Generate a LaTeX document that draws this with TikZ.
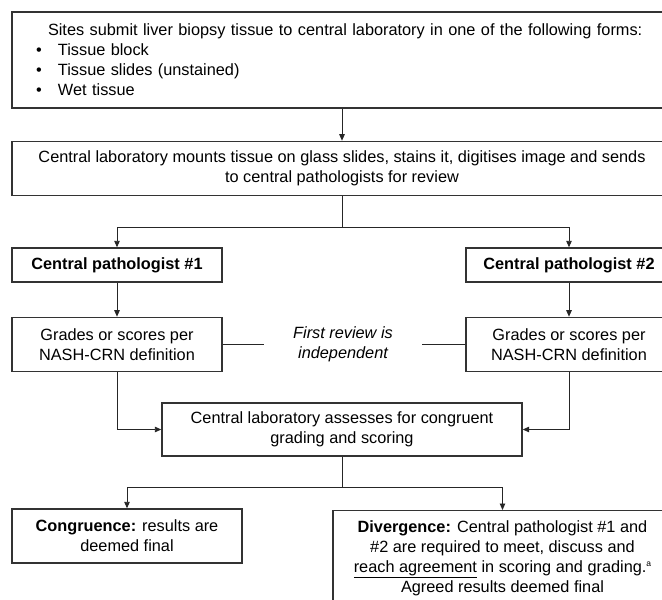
\documentclass[tikz,border=0pt]{standalone}
\usepackage{fontspec}
\setmainfont{Liberation Sans}
\usetikzlibrary{arrows.meta, positioning, calc}

\begin{document}
\begin{tikzpicture}[
    x=1pt, y=-1pt,
    % Define styles
    box/.style={rectangle, draw=black!80, line width=1.4pt, align=center, inner sep=0pt, font=\fontsize{16.3}{20}\selectfont},
    widebox/.style={box, minimum width=660pt},
    sidebox/.style={box, minimum width=206pt},
    headbox/.style={sidebox, minimum height=34pt, font=\fontsize{16.3}{20}\selectfont\bfseries},
    arrow/.style={->, >={Triangle[length=6.5pt, width=5.5pt]}, line width=0.9pt, draw=black!85},
    link/.style={line width=0.9pt, draw=black!85},
    ]
    \useasboundingbox (0,0) rectangle (662,600);
    \clip (0,0) rectangle (662,600);

    % Top of the flow
    \node[widebox, minimum height=96pt, text width=612pt, align=left] (sites) at (342,60) {%
        \hspace*{12pt}Sites submit liver biopsy tissue to central laboratory in one of the following forms:\\
        \makebox[22pt][l]{\textbullet}Tissue block\\
        \makebox[22pt][l]{\textbullet}Tissue slides (unstained)\\
        \makebox[22pt][l]{\textbullet}Wet tissue};
    \node[widebox, minimum height=54pt, below=32pt of sites] (mount) {Central laboratory mounts tissue on glass slides, stains it, digitises image and sends\\to central pathologists for review};

    % Two pathologists
    \node[headbox, minimum width=210pt] (path1) at (117,265) {Central pathologist \#1};
    \node[headbox] (path2) at (569,265) {Central pathologist \#2};
    \node[sidebox, minimum width=210pt, minimum height=54pt, below=34pt of path1] (grades1) {Grades or scores per\\NASH-CRN definition};
    \node[sidebox, minimum height=54pt, below=34pt of path2] (grades2) {Grades or scores per\\NASH-CRN definition};
    \node[font=\fontsize{16.3}{20}\selectfont\itshape, align=center, minimum width=158pt, inner sep=0pt] (review) at ($(grades1)!0.5!(grades2)$) {First review is\\independent};

    % Assessment and outcomes
    \node[box, minimum width=360pt, minimum height=53pt] (assess) at (342,429.5) {Central laboratory assesses for congruent\\grading and scoring};
    \node[box, minimum width=230pt, minimum height=54pt] (cong) at (127,536) {\textbf{Congruence:} results are\\deemed final};
    \node[box, minimum width=339pt, minimum height=95pt, anchor=north] (div) at (502.5,510) {\textbf{Divergence:} Central pathologist \#1 and\\\#2 are required to meet, discuss and\\\underline{reach agreement} in scoring and grading.\raisebox{6pt}{\fontsize{8.5}{8.5}\selectfont a}\\Agreed results deemed final};

    \coordinate (split1) at ($(mount.south)+(0,31)$);
    \coordinate (split2) at ($(assess.south)+(0,31)$);

    % Arrows
    \draw[arrow] (sites) -- (mount);
    \draw[link] (mount.south) -- (split1);
    \draw[arrow] (split1) -| (path1.north);
    \draw[arrow] (split1) -| (path2.north);
    \draw[arrow] (path1) -- (grades1);
    \draw[arrow] (path2) -- (grades2);

    % Note between the two reviews
    \draw[link] (grades1.east) -- (review.west);
    \draw[link] (grades2.west) -- (review.east);

    % Both reviews go to the laboratory
    \draw[arrow] (grades1.south) |- (assess.west);
    \draw[arrow] (grades2.south) |- (assess.east);

    % Outcomes
    \draw[link] (assess.south) -- (split2);
    \draw[arrow] (split2) -| (cong.north);
    \draw[arrow] (split2) -| (div.north);

\end{tikzpicture}
\end{document}
